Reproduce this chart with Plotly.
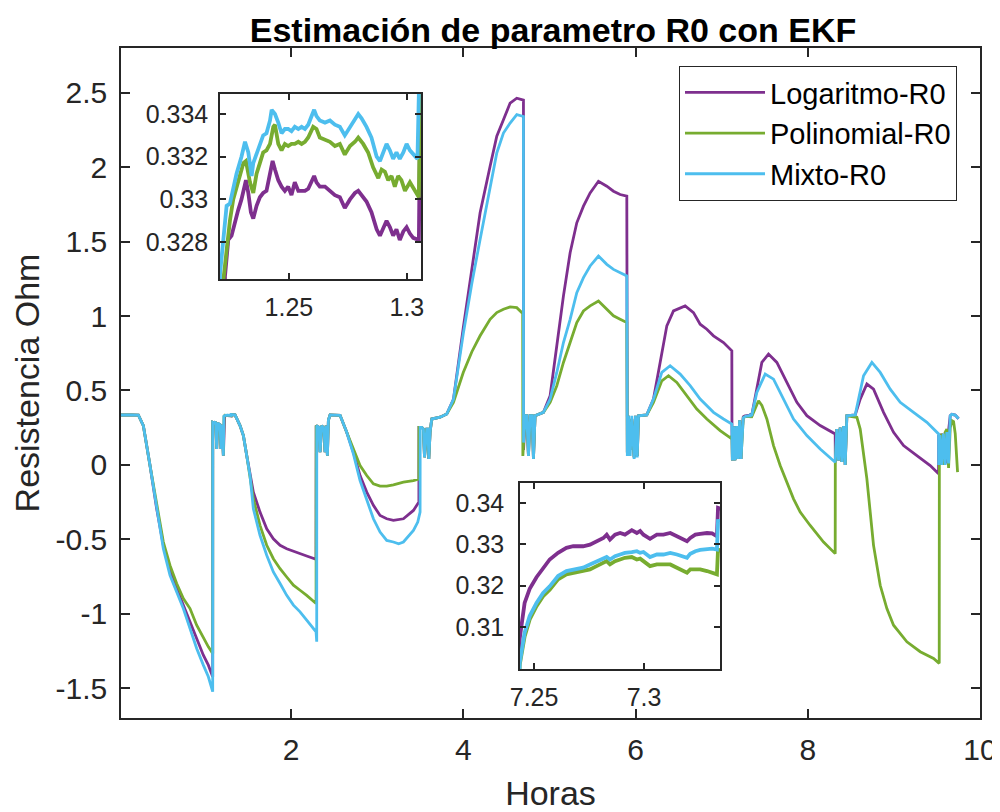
import plotly.graph_objects as go

# ---------------- data ----------------
# main-series points (hours, ohm); the inset windows are filled by the zoom arrays below
log_pts = [
    (0.026, 0.335), (0.10, 0.338), (0.15, 0.336), (0.2273, 0.335), (0.2854, 0.264), (0.3628, -0.004),
    (0.4403, -0.295), (0.5177, -0.540), (0.5951, -0.708), (0.6726, -0.831), (0.75, -0.942),
    (0.8274, -1.043), (0.9048, -1.166), (0.9823, -1.278), (1.0403, -1.345), (1.0907, -1.423),
    (1.0912, 0.286), (1.110, 0.28), (1.1255, 0.29), (1.1371, 0.107), (1.1487, 0.28), (1.1758, 0.27),
    (1.1874, 0.107), (1.199, 0.27), (1.2145, 0.062),
    (1.3060, 0.338), (1.350, 0.336), (1.408, 0.264), (1.447, 0.197), (1.486, 0.0625), (1.524, -0.0715),
    (1.563, -0.183), (1.640, -0.317), (1.718, -0.429), (1.795, -0.496), (1.873, -0.540), (1.950, -0.563),
    (2.028, -0.581), (2.105, -0.596), (2.182, -0.612), (2.291, -0.634),
    (2.2925, 0.264), (2.3257, 0.252), (2.3373, 0.085), (2.3566, 0.264), (2.3837, 0.24), (2.3953, 0.085),
    (2.407, 0.264), (2.4224, 0.062), (2.434, 0.30), (2.4534, 0.336), (2.5696, 0.333),
    (2.647, 0.219), (2.7244, 0.085), (2.8018, -0.0715), (2.8793, -0.183), (2.9567, -0.272),
    (3.0341, -0.340), (3.1115, -0.362), (3.189, -0.373), (3.3051, -0.362), (3.4213, -0.306),
    (3.4716, -0.261), (3.4849, -0.25),
    (3.486, 0.252), (3.5181, 0.252), (3.5374, 0.24), (3.55, 0.051), (3.5761, 0.24), (3.59, 0.24),
    (3.60, 0.040), (3.6149, 0.22), (3.6342, 0.308), (3.731, 0.320), (3.8084, 0.342),
    (3.886, 0.44), (4.0, 0.92), (4.1, 1.30), (4.1956, 1.693), (4.3117, 2.006), (4.3892, 2.207),
    (4.4666, 2.318), (4.544, 2.430), (4.6215, 2.463), (4.6795, 2.452), (4.6989, 2.450),
    (4.700, 0.10), (4.72, 0.33), (4.737, 0.33), (4.757, 0.06), (4.776, 0.33), (4.80, 0.33),
    (4.815, 0.04), (4.834, 0.33),
    (4.9312, 0.353), (5.0086, 0.465), (5.086, 0.800), (5.1634, 1.135), (5.2409, 1.425),
    (5.3183, 1.626), (5.3957, 1.738), (5.4732, 1.827), (5.5699, 1.905), (5.6667, 1.872),
    (5.7441, 1.838), (5.8216, 1.816), (5.899, 1.805),
    (5.905, 0.085), (5.918, 0.33), (5.938, 0.10), (5.957, 0.31), (5.984, 0.05), (6.000, 0.33),
    (6.020, 0.06), (6.035, 0.33),
    (6.1313, 0.336), (6.2087, 0.442), (6.2862, 0.688), (6.3636, 0.934), (6.441, 1.034),
    (6.5185, 1.056), (6.5765, 1.068), (6.6733, 1.023), (6.7507, 0.945), (6.8282, 0.911),
    (6.9056, 0.867), (7.0217, 0.822), (7.1185, 0.766),
    (7.120, 0.264), (7.125, 0.03), (7.14, 0.26), (7.155, 0.03), (7.175, 0.26), (7.19, 0.04),
    (7.21, 0.30), (7.225, 0.04), (7.236, 0.20),
    (7.3508, 0.336), (7.4089, 0.509), (7.467, 0.688), (7.5444, 0.744), (7.6412, 0.688),
    (7.7573, 0.554), (7.8735, 0.420), (7.9896, 0.3305), (8.1445, 0.264), (8.3187, 0.208),
    (8.32, 0.02), (8.3381, 0.24), (8.3574, 0.03), (8.3768, 0.25), (8.3961, 0.02), (8.4155, 0.26),
    (8.4349, 0.0), (8.4542, 0.33),
    (8.551, 0.336), (8.6091, 0.442), (8.6865, 0.543), (8.7639, 0.509), (8.88, 0.353),
    (8.9962, 0.219), (9.1123, 0.1295), (9.2672, 0.0625), (9.4221, -0.0045), (9.5189, -0.060),
    (9.520, 0.20), (9.535, 0.0), (9.555, 0.21), (9.575, 0.0), (9.596, 0.22), (9.615, 0.01),
    (9.635, 0.23), (9.6543, 0.33), (9.6737, 0.34), (9.7124, 0.335), (9.7511, 0.31),
]

pol_pts = [
    (0.026, 0.335), (0.10, 0.338), (0.15, 0.336), (0.2273, 0.335), (0.2854, 0.264), (0.3628, -0.004),
    (0.4403, -0.272), (0.5177, -0.518), (0.5951, -0.675), (0.6726, -0.797), (0.75, -0.898),
    (0.8274, -0.965), (0.9048, -1.077), (0.9823, -1.166), (1.0403, -1.222), (1.0907, -1.266),
    (1.0912, 0.286), (1.110, 0.28), (1.1255, 0.29), (1.1371, 0.107), (1.1487, 0.28), (1.1758, 0.27),
    (1.1874, 0.107), (1.199, 0.27), (1.2145, 0.062),
    (1.3060, 0.338), (1.350, 0.336), (1.408, 0.264), (1.447, 0.197), (1.486, 0.0625), (1.524, -0.0715),
    (1.563, -0.228), (1.640, -0.406), (1.718, -0.540), (1.795, -0.630), (1.873, -0.697), (1.950, -0.753),
    (2.028, -0.808), (2.105, -0.842), (2.182, -0.876), (2.291, -0.931),
    (2.2925, 0.264), (2.3257, 0.252), (2.3373, 0.085), (2.3566, 0.264), (2.3837, 0.24), (2.3953, 0.085),
    (2.407, 0.264), (2.4224, 0.062), (2.434, 0.30), (2.4534, 0.336), (2.5696, 0.333),
    (2.647, 0.219), (2.7244, 0.107), (2.8018, -0.004), (2.8793, -0.0715), (2.9567, -0.127),
    (3.0341, -0.143), (3.1115, -0.143), (3.189, -0.134), (3.3051, -0.116), (3.4213, -0.105),
    (3.4716, -0.098), (3.4849, -0.095),
    (3.486, 0.252), (3.5181, 0.252), (3.5374, 0.24), (3.55, 0.051), (3.5761, 0.24), (3.59, 0.24),
    (3.60, 0.040), (3.6149, 0.22), (3.6342, 0.308), (3.731, 0.320), (3.8084, 0.342),
    (3.886, 0.42), (4.0, 0.62), (4.1, 0.76), (4.1956, 0.867), (4.3117, 0.978), (4.3892, 1.023),
    (4.4666, 1.045), (4.544, 1.061), (4.6215, 1.056), (4.6795, 1.023), (4.69, 1.02),
    (4.692, 0.06), (4.72, 0.33), (4.737, 0.33), (4.757, 0.06), (4.776, 0.33), (4.80, 0.33),
    (4.815, 0.04), (4.834, 0.33),
    (4.9312, 0.353), (5.0086, 0.420), (5.086, 0.532), (5.1634, 0.688), (5.2409, 0.822),
    (5.3183, 0.956), (5.3957, 1.034), (5.4732, 1.068), (5.5699, 1.101), (5.6667, 1.045),
    (5.7441, 1.001), (5.8216, 0.978), (5.899, 0.956),
    (5.905, 0.08), (5.918, 0.33), (5.938, 0.10), (5.957, 0.31), (5.984, 0.05), (6.000, 0.33),
    (6.020, 0.06), (6.035, 0.33),
    (6.1313, 0.336), (6.2087, 0.420), (6.3055, 0.565), (6.383, 0.599), (6.4797, 0.554),
    (6.5959, 0.465), (6.712, 0.375), (6.8282, 0.308), (6.983, 0.230), (7.1185, 0.174),
    (7.120, 0.20), (7.125, 0.03), (7.14, 0.26), (7.155, 0.03), (7.175, 0.26), (7.19, 0.04),
    (7.21, 0.30), (7.225, 0.04), (7.236, 0.20),
    (7.3508, 0.325), (7.4283, 0.431), (7.4670, 0.40), (7.5251, 0.308), (7.6025, 0.1295),
    (7.6799, -0.0045), (7.7573, -0.116), (7.8347, -0.228), (7.9122, -0.317), (8.0283, -0.407),
    (8.1832, -0.518), (8.3187, -0.596),
    (8.320, 0.007), (8.3381, 0.24), (8.3574, 0.03), (8.3768, 0.25), (8.3961, 0.02), (8.4155, 0.26),
    (8.4349, 0.0), (8.4542, 0.33),
    (8.5704, 0.3194), (8.6091, 0.241), (8.6865, -0.094), (8.7639, -0.5405), (8.8413, -0.8085),
    (8.9188, -0.965), (8.9962, -1.077), (9.1511, -1.188), (9.3059, -1.255), (9.4608, -1.300),
    (9.5266, -1.333),
    (9.528, 0.0), (9.555, 0.21), (9.575, 0.0), (9.596, 0.22), (9.615, 0.24), (9.635, -0.02),
    (9.6543, 0.25), (9.6737, 0.297), (9.693, 0.29), (9.7124, 0.21), (9.7395, -0.049),
]

mix_pts = [
    (0.026, 0.335), (0.10, 0.338), (0.15, 0.336), (0.2273, 0.335), (0.2854, 0.264), (0.3628, -0.004),
    (0.4403, -0.295), (0.5177, -0.563), (0.5951, -0.741), (0.6726, -0.853), (0.75, -0.965),
    (0.8274, -1.099), (0.9048, -1.233), (0.9823, -1.345), (1.0403, -1.423), (1.0907, -1.523),
    (1.0912, 0.286), (1.110, 0.28), (1.1255, 0.29), (1.1371, 0.107), (1.1487, 0.28), (1.1758, 0.27),
    (1.1874, 0.107), (1.199, 0.27), (1.2145, 0.062),
    (1.3060, 0.338), (1.350, 0.336), (1.408, 0.264), (1.447, 0.197), (1.486, 0.0625), (1.524, -0.0715),
    (1.563, -0.295), (1.640, -0.473), (1.718, -0.607), (1.795, -0.719), (1.873, -0.797), (1.950, -0.876),
    (2.028, -0.942), (2.105, -0.987), (2.182, -1.043), (2.291, -1.121), (2.2985, -1.188),
    (2.2990, 0.264), (2.3257, 0.252), (2.3373, 0.085), (2.3566, 0.264), (2.3837, 0.24), (2.3953, 0.085),
    (2.407, 0.264), (2.4224, 0.062), (2.434, 0.30), (2.4534, 0.336), (2.5696, 0.333),
    (2.647, 0.219), (2.7244, 0.074), (2.8018, -0.105), (2.8793, -0.228), (2.9567, -0.362),
    (3.0341, -0.451), (3.1115, -0.507), (3.189, -0.518), (3.25, -0.53), (3.3051, -0.518),
    (3.4213, -0.440), (3.4716, -0.384), (3.4987, -0.317),
    (3.500, 0.252), (3.5181, 0.252), (3.5374, 0.24), (3.55, 0.051), (3.5761, 0.24), (3.59, 0.24),
    (3.60, 0.040), (3.6149, 0.22), (3.6342, 0.308), (3.731, 0.320), (3.8084, 0.342),
    (3.886, 0.44), (4.0, 0.88), (4.1, 1.22), (4.1956, 1.514), (4.3117, 1.849), (4.3892, 2.095),
    (4.4666, 2.229), (4.544, 2.296), (4.6215, 2.352), (4.6795, 2.341), (4.6989, 2.340),
    (4.700, 0.15), (4.72, 0.33), (4.737, 0.33), (4.757, 0.06), (4.776, 0.33), (4.80, 0.33),
    (4.815, 0.04), (4.834, 0.33),
    (4.9312, 0.353), (5.0086, 0.442), (5.086, 0.621), (5.1634, 0.822), (5.2409, 0.978),
    (5.3183, 1.157), (5.3957, 1.258), (5.4732, 1.336), (5.5699, 1.403), (5.6667, 1.347),
    (5.7441, 1.313), (5.8216, 1.291), (5.899, 1.269),
    (5.905, 0.06), (5.918, 0.33), (5.938, 0.06), (5.957, 0.33), (5.984, 0.04), (6.000, 0.33),
    (6.020, 0.05), (6.035, 0.33),
    (6.1313, 0.336), (6.2087, 0.442), (6.3055, 0.621), (6.4023, 0.666), (6.5185, 0.610),
    (6.6346, 0.532), (6.7507, 0.442), (6.9056, 0.353), (7.0217, 0.308), (7.1185, 0.275),
    (7.125, 0.03), (7.14, 0.26), (7.155, 0.03), (7.175, 0.26), (7.19, 0.04),
    (7.21, 0.30), (7.225, 0.04), (7.236, 0.20),
    (7.3508, 0.336), (7.4089, 0.487), (7.5057, 0.610), (7.6025, 0.576), (7.7186, 0.442),
    (7.8347, 0.308), (7.9896, 0.197), (8.1445, 0.107), (8.3187, 0.018),
    (8.3381, 0.24), (8.3574, 0.03), (8.3768, 0.25), (8.3961, 0.02), (8.4155, 0.26),
    (8.4349, 0.0), (8.4542, 0.33),
    (8.551, 0.336), (8.6478, 0.5985), (8.7446, 0.688), (8.8413, 0.621), (8.9575, 0.509),
    (9.0736, 0.420), (9.2285, 0.353), (9.3834, 0.286), (9.5189, 0.208),
    (9.520, 0.0), (9.535, 0.20), (9.555, 0.0), (9.575, 0.21), (9.596, 0.0), (9.615, 0.22),
    (9.635, 0.01), (9.6543, 0.33), (9.6737, 0.34), (9.7124, 0.335), (9.7511, 0.31),
]

# detail inside the first inset window (1.22 - 1.306 h)
zoom1_log = [
    (1.2229, 0.3264), (1.2243, 0.3281), (1.2257, 0.3283), (1.2271, 0.3290), (1.2285, 0.3295),
    (1.2299, 0.3300), (1.2318, 0.3309), (1.2328, 0.3303), (1.2339, 0.3294), (1.2349, 0.3291),
    (1.2363, 0.3297), (1.2377, 0.3301), (1.2391, 0.3303), (1.2405, 0.3304), (1.2420, 0.3311),
    (1.2431, 0.3318), (1.2441, 0.3314), (1.2455, 0.3309), (1.2469, 0.3306), (1.2483, 0.3304),
    (1.2497, 0.3306), (1.2511, 0.3302), (1.2525, 0.3308), (1.2540, 0.3304), (1.2554, 0.3304),
    (1.2568, 0.3304), (1.2582, 0.3305), (1.2596, 0.3308), (1.2607, 0.3311), (1.2617, 0.3308),
    (1.2631, 0.3306), (1.2653, 0.3306), (1.2674, 0.3304), (1.2695, 0.3302), (1.2716, 0.3301),
    (1.2737, 0.3296), (1.2759, 0.3300), (1.2780, 0.3303), (1.2794, 0.3304), (1.2808, 0.3302),
    (1.2829, 0.3299), (1.2850, 0.3294), (1.2872, 0.3286), (1.2886, 0.3283), (1.2900, 0.3287),
    (1.2914, 0.3290), (1.2928, 0.3287), (1.2942, 0.3283), (1.2956, 0.3286), (1.2970, 0.3281),
    (1.2985, 0.3285), (1.2999, 0.3287), (1.3013, 0.3284), (1.3027, 0.3282), (1.3051, 0.3281),
]
zoom1_pol = [
    (1.2222, 0.3262), (1.2236, 0.3278), (1.2250, 0.3290), (1.2264, 0.3300), (1.2285, 0.3309),
    (1.2307, 0.3317), (1.2318, 0.3318), (1.2335, 0.3308), (1.2349, 0.3303), (1.2363, 0.3312),
    (1.2377, 0.3317), (1.2391, 0.3322), (1.2405, 0.3323), (1.2420, 0.3326), (1.2434, 0.3334),
    (1.2441, 0.3335), (1.2455, 0.3326), (1.2469, 0.3323), (1.2483, 0.3326), (1.2497, 0.3325),
    (1.2511, 0.3326), (1.2525, 0.3326), (1.2540, 0.3327), (1.2554, 0.3326), (1.2568, 0.3327),
    (1.2582, 0.3329), (1.2603, 0.3334), (1.2617, 0.3333), (1.2631, 0.3329), (1.2653, 0.3328),
    (1.2674, 0.3327), (1.2695, 0.3325), (1.2716, 0.3326), (1.2737, 0.3321), (1.2759, 0.3325),
    (1.2780, 0.3327), (1.2794, 0.3329), (1.2815, 0.3326), (1.2836, 0.3322), (1.2857, 0.3315),
    (1.2879, 0.3310), (1.2893, 0.3314), (1.2907, 0.3313), (1.2921, 0.3309), (1.2935, 0.3311),
    (1.2949, 0.3306), (1.2963, 0.3311), (1.2977, 0.3309), (1.2992, 0.3304), (1.3013, 0.3308),
    (1.3034, 0.3304), (1.3051, 0.3301),
]
zoom1_mix = [
    (1.2208, 0.3265), (1.2222, 0.3281), (1.2236, 0.3297), (1.2250, 0.3298), (1.2264, 0.3306),
    (1.2278, 0.3312), (1.2299, 0.3320), (1.2314, 0.3327), (1.2328, 0.3322), (1.2342, 0.3311),
    (1.2349, 0.3317), (1.2363, 0.3321), (1.2377, 0.3325), (1.2391, 0.3330), (1.2405, 0.3331),
    (1.2420, 0.3337), (1.2427, 0.3342), (1.2441, 0.3340), (1.2455, 0.3336), (1.2469, 0.3331),
    (1.2483, 0.3333), (1.2497, 0.3333), (1.2511, 0.3332), (1.2525, 0.3334), (1.2540, 0.3333),
    (1.2554, 0.3334), (1.2568, 0.3333), (1.2582, 0.3335), (1.2596, 0.3339), (1.2607, 0.3342),
    (1.2617, 0.3339), (1.2631, 0.3337), (1.2653, 0.3336), (1.2674, 0.3337), (1.2695, 0.3335),
    (1.2716, 0.3334), (1.2737, 0.3330), (1.2759, 0.3334), (1.2780, 0.3337), (1.2794, 0.3340),
    (1.2808, 0.3338), (1.2829, 0.3334), (1.2850, 0.3329), (1.2872, 0.3320), (1.2886, 0.3318),
    (1.2900, 0.3322), (1.2914, 0.3326), (1.2928, 0.3323), (1.2942, 0.3319), (1.2956, 0.3322),
    (1.2970, 0.3319), (1.2985, 0.3322), (1.2999, 0.3326), (1.3013, 0.3323), (1.3027, 0.3321),
    (1.3045, 0.3319), (1.3051, 0.3350),
]

# detail inside the second inset window (7.24 - 7.335 h)
zoom2_t = [7.2435, 7.2457, 7.2480, 7.2511, 7.2541, 7.2571, 7.2609, 7.2647, 7.2678, 7.2723, 7.2754,
           7.2784, 7.2815, 7.2830, 7.2845, 7.2868, 7.2891, 7.2913, 7.2944, 7.2967, 7.2982, 7.2997,
           7.3027, 7.3058, 7.3088, 7.3119, 7.3149, 7.3179, 7.3195, 7.3210, 7.3233, 7.3255, 7.3286,
           7.3309, 7.3331, 7.3336]
zoom2_log = [0.3073, 0.3158, 0.3192, 0.3220, 0.3243, 0.3263, 0.3279, 0.3291, 0.3295, 0.3295, 0.3299,
             0.3307, 0.3315, 0.3323, 0.3311, 0.3323, 0.3327, 0.3323, 0.3334, 0.3327, 0.3332, 0.3323,
             0.3313, 0.3323, 0.3323, 0.3327, 0.3319, 0.3311, 0.3307, 0.3315, 0.3323, 0.3325, 0.3327,
             0.3326, 0.3319, 0.3388]
zoom2_pol = [0.3009, 0.3077, 0.3118, 0.3150, 0.3174, 0.3190, 0.3215, 0.3227, 0.3231, 0.3235, 0.3239,
             0.3247, 0.3255, 0.3259, 0.3251, 0.3259, 0.3263, 0.3267, 0.3269, 0.3263, 0.3265, 0.3259,
             0.3247, 0.3251, 0.3251, 0.3251, 0.3243, 0.3235, 0.3231, 0.3239, 0.3240, 0.3239, 0.3235,
             0.3231, 0.3227, 0.3287]
zoom2_mix = [0.3013, 0.3086, 0.3126, 0.3158, 0.3182, 0.3198, 0.3223, 0.3235, 0.3239, 0.3243, 0.3251,
             0.3259, 0.3267, 0.3269, 0.3263, 0.3271, 0.3275, 0.3279, 0.3281, 0.3283, 0.3279, 0.3281,
             0.3269, 0.3275, 0.3275, 0.3279, 0.3275, 0.3269, 0.3267, 0.3277, 0.3283, 0.3286, 0.3287,
             0.3289, 0.3287, 0.3356]

series_names = ["Logaritmo-R0", "Polinomial-R0", "Mixto-R0"]
series_colors = ["#7E2F8E", "#77AC30", "#4DBEEE"]

main_xticks = [2, 4, 6, 8, 10]
main_yticks = [-1.5, -1, -0.5, 0, 0.5, 1, 1.5, 2, 2.5]
main_ytext = ["-1.5", "-1", "-0.5", "0", "0.5", "1", "1.5", "2", "2.5"]
in1_xticks, in1_xtext = [1.25, 1.3], ["1.25", "1.3"]
in1_yticks, in1_ytext = [0.328, 0.33, 0.332, 0.334], ["0.328", "0.33", "0.332", "0.334"]
in2_xticks, in2_xtext = [7.25, 7.3], ["7.25", "7.3"]
in2_yticks, in2_ytext = [0.31, 0.32, 0.33, 0.34], ["0.31", "0.32", "0.33", "0.34"]


def merge(main, *details):
    pts = list(main)
    for d in details:
        pts += list(d)
    pts.sort(key=lambda p: p[0])
    return [p[0] for p in pts], [p[1] for p in pts]


series = [
    merge(log_pts, zoom1_log, zip(zoom2_t, zoom2_log)),
    merge(pol_pts, zoom1_pol, zip(zoom2_t, zoom2_pol)),
    merge(mix_pts, zoom1_mix, zip(zoom2_t, zoom2_mix)),
]

FONT = "Liberation Sans, Arial, sans-serif"
AX = "#262626"

fig = go.Figure()
for (t, v), name, col in zip(series, series_names, series_colors):
    fig.add_trace(go.Scatter(x=t, y=v, mode="lines", name=name, line=dict(color=col, width=2.8),
                             xaxis="x", yaxis="y"))
for (t, v), name, col in zip(series, series_names, series_colors):
    fig.add_trace(go.Scatter(x=t, y=v, mode="lines", name=name, showlegend=False,
                             line=dict(color=col, width=3.8), xaxis="x2", yaxis="y2"))
for (t, v), name, col in zip(series, series_names, series_colors):
    fig.add_trace(go.Scatter(x=t, y=v, mode="lines", name=name, showlegend=False,
                             line=dict(color=col, width=3.8), xaxis="x3", yaxis="y3"))


def axstyle(**kw):
    d = dict(showline=True, linecolor=AX, linewidth=1.5, mirror="allticks", ticks="inside",
             tickcolor=AX, tickwidth=1.5, showgrid=False, zeroline=False, automargin=False,
             tickfont=dict(family=FONT, size=30, color=AX))
    d.update(kw)
    return d


# the page body keeps an 8 px margin, so the figure is 8 px smaller and every
# pixel position below is the reference position minus 8
OFF = 8
W, H = 1000 - OFF, 812 - OFF


def px_x(a, b):
    return [(a - OFF) / W, (b - OFF) / W]


def px_y(top, bottom):
    return [1 - (bottom - OFF) / H, 1 - (top - OFF) / H]


fig.update_layout(
    width=W, height=H,
    margin=dict(l=0, r=0, t=0, b=0, autoexpand=False),
    paper_bgcolor="white", plot_bgcolor="white",
    showlegend=True,
    title=dict(text="<b>Estimación de parametro R0 con EKF</b>", x=(553 - OFF) / W, xanchor="center",
               y=1, yanchor="top", yref="container", automargin=False,
               pad=dict(t=10, b=0, l=0, r=0),
               font=dict(family=FONT, size=34, color="black")),
    xaxis=axstyle(domain=px_x(121, 980), range=[0.026, 10], tickvals=main_xticks,
                  ticktext=[str(v) for v in main_xticks], ticklen=9, ticklabelstandoff=4,
                  title=dict(text="Horas", font=dict(family=FONT, size=34, color=AX), standoff=24),
                  anchor="y"),
    yaxis=axstyle(domain=px_y(48, 718), range=[-1.7, 2.8], tickvals=main_yticks,
                  ticktext=main_ytext, ticklen=9, ticklabelstandoff=6,
                  title=dict(text="Resistencia Ohm", font=dict(family=FONT, size=34, color=AX), standoff=12),
                  anchor="x"),
    xaxis2=axstyle(domain=px_x(220, 421), range=[1.2208, 1.306], tickvals=in1_xticks,
                   ticktext=in1_xtext, ticklen=6, ticklabelstandoff=5, anchor="y2",
                   tickfont=dict(family=FONT, size=25, color=AX)),
    yaxis2=axstyle(domain=px_y(94, 279), range=[0.32627, 0.33494], tickvals=in1_yticks,
                   ticktext=in1_ytext, ticklen=6, ticklabelstandoff=5, anchor="x2",
                   tickfont=dict(family=FONT, size=25, color=AX)),
    xaxis3=axstyle(domain=px_x(520, 720), range=[7.2436, 7.3345], tickvals=in2_xticks,
                   ticktext=in2_xtext, ticklen=6, ticklabelstandoff=5, anchor="y3",
                   tickfont=dict(family=FONT, size=25, color=AX)),
    yaxis3=axstyle(domain=px_y(483, 669), range=[0.2998, 0.3448], tickvals=in2_yticks,
                   ticktext=in2_ytext, ticklen=6, ticklabelstandoff=9, anchor="x3",
                   tickfont=dict(family=FONT, size=25, color=AX)),
    legend=dict(x=(679 - OFF) / W, y=1 - (66 - OFF) / H, xanchor="left", yanchor="top",
                bgcolor="white", bordercolor=AX, borderwidth=1,
                font=dict(family=FONT, size=29, color="black"),
                itemwidth=80, tracegroupgap=0),
)

fig.write_html("out.html")
